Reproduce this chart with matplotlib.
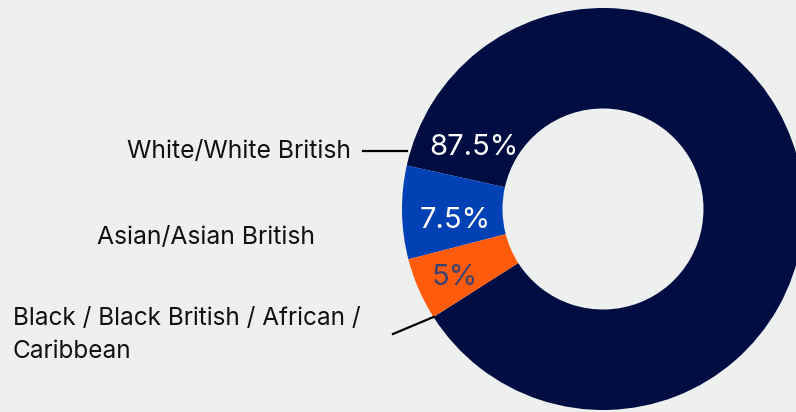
import numpy as np
import matplotlib
matplotlib.use("Agg")
import matplotlib.pyplot as plt

# data
categories = ["White/White British", "Asian/Asian British",
              "Black / Black British / African /\nCaribbean"]
shares = [87.5, 7.5, 5]
pct_labels = ["87.5%", "7.5%", "5%"]
colors = ["#000d42", "#0041b5", "#ff5b0b"]
pct_colors = ["white", "white", "#3b4272"]

bg = "#eef0ef"
plt.rcParams["font.family"] = ["Inter", "DejaVu Sans"]

fig = plt.figure(figsize=(7.96, 4.12), dpi=100, facecolor=bg)
ax = fig.add_axes([0, 0, 1, 1])
ax.set_facecolor(bg)

cx, cy, R = 603, 203, 201
wedges, _ = ax.pie(shares, colors=colors, startangle=212.5, counterclock=True,
                   radius=R, center=(cx, cy),
                   wedgeprops=dict(width=R * 0.5, linewidth=0))
ax.set_xlim(0, 796)
ax.set_ylim(0, 412)
ax.set_aspect("equal")
ax.axis("off")

# percentage labels (angle, radius fraction)
pct_pos = [(154.5, 0.71), (184.5, 0.74), (204.7, 0.81)]
for lab, col, (ang, rf) in zip(pct_labels, pct_colors, pct_pos):
    a = np.deg2rad(ang)
    ax.text(cx + rf * R * np.cos(a), cy + rf * R * np.sin(a), lab,
            color=col, fontsize=21, ha="center", va="center")

# category labels
ax.text(351, 412 - 151, categories[0], fontsize=17.8, ha="right", va="center", color="#111111")
ax.plot([363, 407], [412 - 151, 412 - 151], color="black", lw=1.6)
ax.text(315, 412 - 237, categories[1], fontsize=17.8, ha="right", va="center", color="#111111")
ax.text(13, 412 - 335, categories[2], fontsize=17.5, ha="left", va="center",
        color="#111111", linespacing=1.5)
end = np.deg2rad(wedges[2].theta2)
ax.plot([393, cx + R * np.cos(end)], [412 - 334, cy + R * np.sin(end)],
        color="black", lw=1.6)

fig.savefig("out.png", dpi=100, facecolor=bg)
